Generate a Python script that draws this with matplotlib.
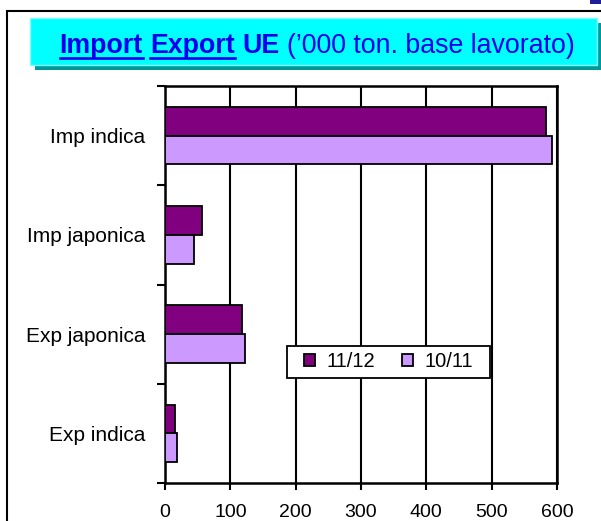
import matplotlib
matplotlib.use("Agg")
import matplotlib.pyplot as plt
from matplotlib.patches import Rectangle
from matplotlib.lines import Line2D
import numpy as np

plt.rcParams['font.family'] = ['Liberation Sans', 'DejaVu Sans']

categories = ['Imp indica', 'Imp japonica', 'Exp japonica', 'Exp indica']
series_names = ['11/12', '10/11']
values_1112 = [583, 57, 118, 15]
values_1011 = [592, 45, 122, 18]
colors = ['#800080', '#CC99FF']
x_ticks = [0, 100, 200, 300, 400, 500, 600]

W, H = 601, 521
fig = plt.figure(figsize=(W / 100, H / 100), dpi=100)


def fx(px):
    return px / W


def fy(py):
    return 1 - py / H


# outer frame (left + top visible)
fig.patches.append(Rectangle((fx(7), fy(560)), fx(700), fy(10.5) - fy(560),
                             transform=fig.transFigure, fill=False,
                             edgecolor='black', linewidth=1.5))
# small blue block top-right
fig.patches.append(Rectangle((fx(590), fy(4)), fx(20), fy(0) - fy(4),
                             transform=fig.transFigure, facecolor='#1f1f99',
                             edgecolor='none'))
# title box shadow and box
fig.patches.append(Rectangle((fx(35), fy(69.5)), fx(601) - fx(35), fy(23) - fy(69.5),
                             transform=fig.transFigure, facecolor='#009999',
                             edgecolor='none'))
fig.patches.append(Rectangle((fx(30), fy(65)), fx(597) - fx(30), fy(18.5) - fy(65),
                             transform=fig.transFigure, facecolor='#00FFFF',
                             edgecolor='#80FFFF', linewidth=1))

# title text pieces
title_color = '#0000EE'
fs_title = 19.3
pieces = [("Import", 'bold', True), ("Export", 'bold', True), ("UE", 'bold', False),
          ("(’000 ton. base lavorato)", 'normal', False)]
renderer = fig.canvas.get_renderer()
tmp1 = fig.text(0, 0, "x x", fontsize=fs_title, fontweight='bold')
tmp2 = fig.text(0, 0, "xx", fontsize=fs_title, fontweight='bold')
space_w = tmp1.get_window_extent(renderer).width - tmp2.get_window_extent(renderer).width
tmp1.remove()
tmp2.remove()

x_cur = 59.5
base_y = 53
for word, weight, ul in pieces:
    t = fig.text(fx(x_cur), fy(base_y), word, fontsize=fs_title, fontweight=weight,
                 color=title_color, ha='left', va='baseline')
    w = t.get_window_extent(renderer).width
    if ul:
        fig.lines.append(Line2D([fx(x_cur), fx(x_cur + w)], [fy(58), fy(58)],
                                transform=fig.transFigure, color=title_color,
                                linewidth=1.9))
    x_cur += w + space_w

# axes
ax = fig.add_axes([fx(165), fy(483), fx(557) - fx(165), fy(86) - fy(483)])
y = np.arange(len(categories))
bh = 0.29
ax.barh(y - bh / 2, values_1112, height=bh, color=colors[0], edgecolor='black',
        linewidth=1.3, label=series_names[0], zorder=3)
ax.barh(y + bh / 2, values_1011, height=bh, color=colors[1], edgecolor='black',
        linewidth=1.3, label=series_names[1], zorder=3)

ax.set_xlim(0, 600)
ax.set_ylim(len(categories) - 0.5, -0.5)
ax.set_xticks(x_ticks)
ax.set_xticklabels([str(v) for v in x_ticks], fontsize=14)
ax.xaxis.grid(True, color='black', linewidth=1.5, zorder=0)
ax.set_axisbelow(True)

ax.set_yticks(np.arange(len(categories) + 1) - 0.5)
ax.set_yticklabels([])
ax.set_yticks(y, minor=True)
ax.set_yticklabels(categories, minor=True, fontsize=15)
ax.tick_params(axis='y', which='minor', length=0, pad=14)
ax.tick_params(axis='y', which='major', length=6, width=1.5, direction='out')
ax.tick_params(axis='x', length=5, width=1.5, direction='out', pad=10)
for s in ax.spines.values():
    s.set_linewidth(1.8)
    s.set_color('black')

# legend frame box
ax.add_patch(Rectangle((0.311, 0.264), 0.518, 0.081, transform=ax.transAxes,
                       facecolor='white', edgecolor='black', linewidth=1.3,
                       zorder=4, clip_on=False))
leg = ax.legend(loc='center', bbox_to_anchor=(0.57, 0.305), ncol=2, fontsize=14.5,
                frameon=False, handlelength=0.55, handleheight=0.55,
                columnspacing=1.3, handletextpad=0.6, borderpad=0.3,
                borderaxespad=0)
leg.set_zorder(5)

fig.savefig('out.png', dpi=100)
